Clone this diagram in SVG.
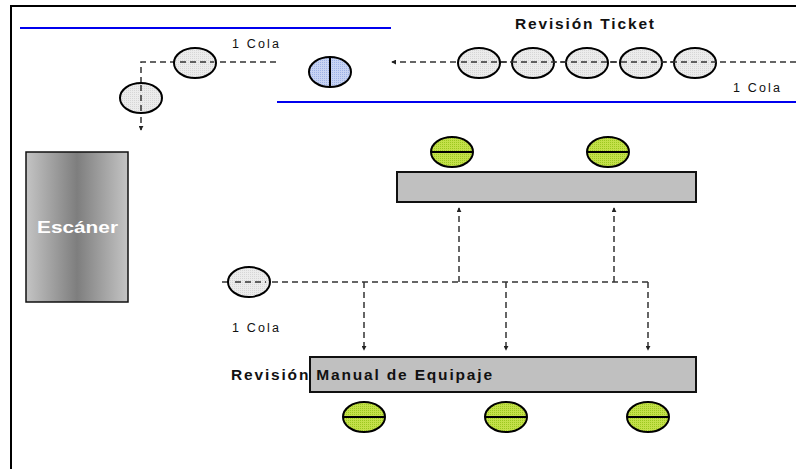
<svg xmlns="http://www.w3.org/2000/svg" width="796" height="469" viewBox="0 0 796 469">
<defs>
<linearGradient id="scan" x1="0" y1="0" x2="1" y2="0">
<stop offset="0" stop-color="#c4c4c4"/>
<stop offset="0.5" stop-color="#7e7e7e"/>
<stop offset="1" stop-color="#c4c4c4"/>
</linearGradient>
<pattern id="grayp" width="2" height="2" patternUnits="userSpaceOnUse">
<rect width="2" height="2" fill="#ececec"/>
<rect width="1" height="1" fill="#d6d6d6"/>
</pattern>
<pattern id="greenp" width="2" height="2" patternUnits="userSpaceOnUse">
<rect width="2" height="2" fill="#c4e04a"/>
<rect width="1" height="1" fill="#9cc820"/>
</pattern>
<pattern id="bluep" width="2" height="2" patternUnits="userSpaceOnUse">
<rect width="2" height="2" fill="#c8d4f4"/>
<rect width="1" height="1" fill="#9eb2e6"/>
</pattern>
<marker id="arr" viewBox="0 0 6 6" refX="5" refY="3" markerWidth="5" markerHeight="5" orient="auto" markerUnits="userSpaceOnUse">
<path d="M0,0 L6,3 L0,6 z" fill="#222"/>
</marker>
</defs>
<style>
.frame{stroke:#000;stroke-width:2;fill:none}
.blue{stroke:#0000ee;stroke-width:2}
.dash{stroke:#333;stroke-width:1.5;stroke-dasharray:6 4;fill:none}
.p{stroke:#000;stroke-width:2}
.gray{fill:url(#grayp)}
.green{fill:url(#greenp)}
.bluef{fill:url(#bluep)}
.bar{fill:#c0c0c0;stroke:#111;stroke-width:2}
.lbl{font-family:"Liberation Sans",Arial,sans-serif;font-size:12.5px;fill:#111}
.bold{font-family:"Liberation Sans",Arial,sans-serif;font-size:15.5px;font-weight:bold;fill:#111}
</style>
<rect width="796" height="469" fill="#fff"/>
<path class="frame" d="M11,469 V6 H796"/>
<line class="blue" x1="20" y1="28" x2="391" y2="28"/>
<line class="blue" x1="277" y1="102" x2="796" y2="102"/>
<g id="connectors">
<path class="dash" d="M276,62 H141 V130" marker-end="url(#arr)"/>
<path class="dash" d="M796,62 H392" marker-end="url(#arr)"/>
<path class="dash" d="M222,282 H648"/>
<path class="dash" d="M459,282 V208" marker-end="url(#arr)"/>
<path class="dash" d="M614,282 V208" marker-end="url(#arr)"/>
<path class="dash" d="M364,282 V350" marker-end="url(#arr)"/>
<path class="dash" d="M506,282 V350" marker-end="url(#arr)"/>
<path class="dash" d="M648,282 V350" marker-end="url(#arr)"/>
</g>
<g id="scanner">
<rect x="26" y="152" width="102" height="150" fill="url(#scan)" stroke="#111" stroke-width="1.5"/>
<text x="37" y="233" textLength="81" lengthAdjust="spacingAndGlyphs" font-family="Liberation Sans,Arial,sans-serif" font-size="17" font-weight="bold" fill="#fff">Escáner</text>
</g>
<g id="queue-ticket">
<ellipse class="p gray" cx="479" cy="63" rx="21" ry="15"/>
<ellipse class="p gray" cx="533" cy="63" rx="21" ry="15"/>
<ellipse class="p gray" cx="587" cy="63" rx="21" ry="15"/>
<ellipse class="p gray" cx="641" cy="63" rx="21" ry="15"/>
<ellipse class="p gray" cx="695" cy="63" rx="21" ry="15"/>
<path class="dash" d="M461,62 H716" stroke="#666"/>
</g>
<g id="officer-ticket">
<ellipse class="p bluef" cx="330" cy="72" rx="21" ry="15"/>
<line class="p" x1="330" y1="57" x2="330" y2="87"/>
</g>
<g id="queue-left">
<ellipse class="p gray" cx="195" cy="63" rx="21" ry="15"/>
<ellipse class="p gray" cx="141" cy="98" rx="21" ry="15"/>
<path class="dash" d="M180,62 H214 M141,85 V112" stroke="#666"/>
</g>
<g id="queue-manual">
<ellipse class="p gray" cx="249" cy="282" rx="21" ry="15"/>
<path class="dash" d="M235,282 H266" stroke="#888"/>
</g>
<g id="bar-top">
<rect class="bar" x="397" y="172" width="299" height="30"/>
</g>
<g id="officers-top">
<ellipse class="p green" cx="452" cy="152" rx="21" ry="15"/>
<line class="p" x1="431" y1="152" x2="473" y2="152"/>
<ellipse class="p green" cx="608" cy="152" rx="21" ry="15"/>
<line class="p" x1="587" y1="152" x2="629" y2="152"/>
</g>
<g id="bar-manual">
<rect class="bar" x="310" y="357" width="386" height="35"/>
</g>
<g id="officers-bottom">
<ellipse class="p green" cx="364" cy="417" rx="21" ry="15"/>
<line class="p" x1="343" y1="417" x2="385" y2="417"/>
<ellipse class="p green" cx="506" cy="417" rx="21" ry="15"/>
<line class="p" x1="485" y1="417" x2="527" y2="417"/>
<ellipse class="p green" cx="648" cy="417" rx="21" ry="15"/>
<line class="p" x1="627" y1="417" x2="669" y2="417"/>
</g>
<g id="labels">
<text class="bold" x="515" y="29" textLength="139" lengthAdjust="spacing">Revisión Ticket</text>
<text class="lbl" x="232" y="48" textLength="47" lengthAdjust="spacing">1 Cola</text>
<text class="lbl" x="733" y="92" textLength="47" lengthAdjust="spacing">1 Cola</text>
<text class="lbl" x="232" y="332" textLength="47" lengthAdjust="spacing">1 Cola</text>
<text class="bold" x="231" y="380" textLength="261" lengthAdjust="spacing">Revisión Manual de Equipaje</text>
</g>
</svg>
